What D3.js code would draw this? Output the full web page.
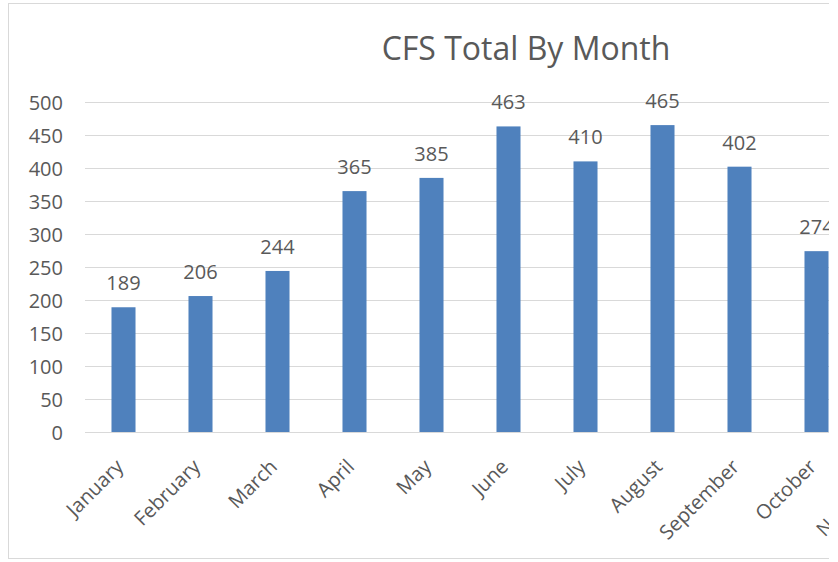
<!DOCTYPE html>
<html><head><meta charset="utf-8">
<script src="https://cdn.jsdelivr.net/npm/d3@7"></script>
<style>body{margin:0;background:#fff}svg{display:block}text{font-family:"Open Sans",Calibri,Carlito,sans-serif;fill:#595959}</style>
</head><body><svg id="c" width="838" height="562"></svg>
<script>
const months = ["January","February","March","April","May","June","July","August","September","October","November","December"];
const values = [189,206,244,365,385,463,410,465,402,274];
const yTicks = [0,50,100,150,200,250,300,350,400,450,500];
const title = "CFS Total By Month";

const svg = d3.select("#c");
const clipW = 829;
svg.append("defs").append("clipPath").attr("id","clip").append("rect").attr("x",0).attr("y",0).attr("width",clipW).attr("height",562);
const g = svg.append("g").attr("clip-path","url(#clip)");

// chart border
g.append("rect").attr("x",8.5).attr("y",3.5).attr("width",1100).attr("height",555).attr("fill","none").attr("stroke","#d9d9d9");

const x = d3.scaleBand().domain(months).range([85, 85+77*months.length]).paddingInner(0.688).paddingOuter(0.344);
const y = d3.scaleLinear().domain([0,500]).range([432,102]);

g.append("text").attr("x",526).attr("y",60).attr("text-anchor","middle").style("font-size","32px").text(title);

// grid
g.selectAll("line.grid").data(yTicks).join("line").attr("class","grid")
  .attr("x1",85).attr("x2",1100).attr("y1",d=>Math.round(y(d))+0.5).attr("y2",d=>Math.round(y(d))+0.5)
  .attr("stroke","#d9d9d9").attr("stroke-width",1);

// y axis labels
const yAxis = d3.axisLeft(y).tickValues(yTicks).tickSize(0).tickPadding(0);
const ya = g.append("g").attr("transform","translate(63,0)").call(yAxis);
ya.select(".domain").remove();
ya.attr("font-family",null).attr("font-size",null);
ya.selectAll("text").style("font-size","20px").attr("fill","#595959").attr("dy","0.35em");

const data = values.map((v,i)=>({m:months[i],v}));
g.selectAll("rect.bar").data(data).join("rect").attr("class","bar")
  .attr("x",d=>x(d.m)).attr("width",x.bandwidth()).attr("y",d=>y(d.v)).attr("height",d=>y(0)-y(d.v))
  .attr("fill","#4f81bd");

g.selectAll("text.lbl").data(data).join("text").attr("class","lbl")
  .attr("x",d=>x(d.m)+x.bandwidth()/2).attr("y",d=>y(d.v)-17).attr("text-anchor","middle")
  .style("font-size","20px").text(d=>d.v);

// x axis labels
const xAxis = d3.axisBottom(x).tickSize(0).tickPadding(0);
const xa = g.append("g").attr("transform","translate(0,432)").call(xAxis);
xa.select(".domain").remove();
xa.attr("font-family",null).attr("font-size",null);
xa.selectAll("text").style("font-size","20px").attr("fill","#595959")
  .attr("text-anchor","end").attr("dy",null).attr("y",0)
  .attr("transform","translate(1,36) rotate(-45)");
</script></body></html>
